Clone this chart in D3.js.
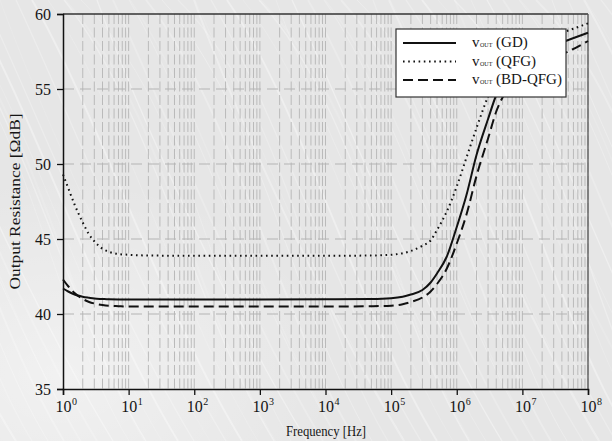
<!DOCTYPE html>
<html>
<head>
<meta charset="utf-8">
<script src="https://cdn.jsdelivr.net/npm/d3@7"></script>
<style>
  html, body { margin: 0; padding: 0; background: #e6e6e6; }
  svg { display: block; }
  text { font-family: "Liberation Serif", "Times New Roman", serif; fill: #151515; }
</style>
</head>
<body>
<svg id="chart" width="612" height="441"></svg>
<script>
// Frequency sweep (Hz) shared by all three output-resistance curves
const freqs = [1, 1.2, 1.5, 2, 2.5, 3, 4, 5, 7, 10, 20, 100, 1e3, 1e4, 5e4,
  1e5, 1.5e5, 2e5, 3e5, 4e5, 5e5, 7e5, 1e6, 1.4e6, 2e6, 3e6, 4e6, 6e6,
  1e7, 2e7, 5e7, 1e8];

// Output resistance [ΩdB] per topology
const gdValues = [41.7, 41.5, 41.3, 41.15, 41.08, 41.03, 41.0, 40.98, 40.97, 40.97,
  40.97, 40.97, 40.97, 40.98, 41.0, 41.05, 41.15, 41.3, 41.6, 42.1, 42.7, 43.8,
  45.8, 47.9, 50.6, 53.0, 54.6, 55.9, 56.8, 57.6, 58.27, 58.75];
const qfgValues = [49.3, 48.4, 47.3, 46.1, 45.3, 44.85, 44.35, 44.15, 44.0, 43.95,
  43.9, 43.88, 43.88, 43.88, 43.9, 43.95, 44.05, 44.2, 44.55, 44.9, 45.6, 46.8,
  48.5, 50.4, 52.4, 54.5, 55.7, 56.9, 57.7, 58.4, 58.9, 59.38];
const bdqfgValues = [42.3, 41.85, 41.4, 41.0, 40.8, 40.7, 40.6, 40.55, 40.52, 40.5,
  40.5, 40.5, 40.5, 40.5, 40.52, 40.55, 40.65, 40.8, 41.1, 41.5, 42.0, 43.0,
  44.7, 46.6, 49.2, 51.7, 53.5, 55.0, 56.0, 56.8, 57.5, 58.2];

const seriesNames = ["GD", "QFG", "BD-QFG"];
const seriesDash = ["none", "1.6,3.6", "10,5"];
const yTicks = [35, 40, 45, 50, 55, 60];
const xDecades = [0, 1, 2, 3, 4, 5, 6, 7, 8];

const svg = d3.select("#chart");
const W = 612, H = 441;
const plotL = 63, plotR = 588, plotT = 14, plotB = 389;

// textured backdrop: light grey with soft white streaks
svg.append("rect").attr("width", W).attr("height", H).attr("fill", "#e6e6e6");
const streaks = svg.append("g").attr("stroke", "#ffffff").attr("fill", "none");
for (let i = -30; i < 60; i++) {
  const x0 = i * 13 + (i % 5) * 3;
  const bend = 40 + (Math.abs(i) % 7) * 12;
  streaks.append("path")
    .attr("d", `M${x0},0 C${x0 + bend},${110} ${x0 + 130},${310} ${x0 + 210},${H}`)
    .attr("stroke-width", 0.8 + (Math.abs(i) % 3) * 0.6)
    .attr("stroke-opacity", 0.15 + (Math.abs(i * 7) % 5) * 0.05);
}
// lighter haze toward the lower left
const haze = svg.append("defs").append("radialGradient").attr("id", "haze")
  .attr("cx", "0.1").attr("cy", "0.85").attr("r", "0.45");
haze.append("stop").attr("offset", "0").attr("stop-color", "#ffffff").attr("stop-opacity", 0.45);
haze.append("stop").attr("offset", "1").attr("stop-color", "#ffffff").attr("stop-opacity", 0);
svg.append("rect").attr("width", W).attr("height", H).attr("fill", "url(#haze)");

const x = d3.scaleLog().domain([1, 1e8]).range([plotL, plotR]);
const y = d3.scaleLinear().domain([35, 60]).range([plotB, plotT]);

// minor + decade vertical grid lines
const gridX = [];
for (let d = 0; d < 8; d++) {
  for (let m = 2; m <= 10; m++) gridX.push(m * Math.pow(10, d));
}
svg.append("g").selectAll("line").data(gridX).join("line")
  .attr("x1", d => x(d)).attr("x2", d => x(d))
  .attr("y1", plotT).attr("y2", plotB)
  .attr("stroke", "#bababa").attr("stroke-width", 1)
  .attr("stroke-dasharray", "10,3.5");

svg.append("g").selectAll("line").data(yTicks.filter(v => v > 35 && v < 60)).join("line")
  .attr("x1", plotL).attr("x2", plotR)
  .attr("y1", d => y(d)).attr("y2", d => y(d))
  .attr("stroke", "#b3b3b3").attr("stroke-width", 1.1)
  .attr("stroke-dasharray", "11,6");

// frame
svg.append("line").attr("x1", plotL).attr("x2", plotR).attr("y1", plotT).attr("y2", plotT)
  .attr("stroke", "#333").attr("stroke-width", 1.3);
svg.append("line").attr("x1", plotR).attr("x2", plotR).attr("y1", plotT).attr("y2", plotB)
  .attr("stroke", "#555").attr("stroke-width", 1.3);

// axes
const yAxis = d3.axisLeft(y).tickValues(yTicks).tickSize(6).tickFormat(d3.format("d"));
const gy = svg.append("g").attr("transform", `translate(${plotL},0)`).call(yAxis);
gy.select(".domain").attr("stroke", "#111").attr("stroke-width", 1.5);
gy.selectAll(".tick line").attr("stroke", "#111").attr("stroke-width", 1.3);
gy.selectAll(".tick text").attr("font-size", 16).attr("x", -12).attr("dy", "0.33em")
  .style("font-family", "'Liberation Serif', serif").attr("fill", "#151515");

const xAxis = d3.axisBottom(x).tickValues(xDecades.map(e => Math.pow(10, e))).tickSize(6).tickFormat("");
const gx = svg.append("g").attr("transform", `translate(0,${plotB})`).call(xAxis);
gx.select(".domain").attr("stroke", "#111").attr("stroke-width", 1.5);
gx.selectAll(".tick line").attr("stroke", "#111").attr("stroke-width", 1.3);
const xt = gx.selectAll(".tick").append("text")
  .attr("x", -8).attr("y", 23).attr("text-anchor", "start").attr("font-size", 16).attr("fill", "#151515")
  .style("font-family", "'Liberation Serif', serif");
xt.append("tspan").text("10");
xt.append("tspan").attr("font-size", 10).attr("dy", -7).attr("dx", 0.5).text((d, i) => xDecades[i]);

// axis titles
svg.append("text").attr("x", 326).attr("y", 436).attr("text-anchor", "middle")
  .attr("font-size", 15.5).attr("textLength", 80).attr("lengthAdjust", "spacingAndGlyphs")
  .text("Frequency [Hz]");
svg.append("text").attr("transform", `translate(19.5,${(plotT + plotB) / 2}) rotate(-90)`)
  .attr("text-anchor", "middle").attr("font-size", 15.5)
  .attr("textLength", 176).attr("lengthAdjust", "spacingAndGlyphs")
  .text("Output Resistance [ΩdB]");

// curves
const allSeries = [gdValues, qfgValues, bdqfgValues];
const line = d3.line()
  .x((d, i) => x(freqs[i]))
  .y(d => y(d))
  .curve(d3.curveMonotoneX);
svg.append("g").selectAll("path").data(allSeries).join("path")
  .attr("d", d => line(d))
  .attr("fill", "none").attr("stroke", "#111").attr("stroke-width", 2)
  .attr("stroke-dasharray", (d, i) => seriesDash[i]);

// legend
const lg = svg.append("g").attr("transform", "translate(396,29)");
lg.append("rect").attr("width", 170).attr("height", 68)
  .attr("fill", "#ffffff").attr("stroke", "#333").attr("stroke-width", 1.2);
seriesNames.forEach((name, i) => {
  const ly = 14 + i * 18.5;
  lg.append("line").attr("x1", 7).attr("x2", 60).attr("y1", ly).attr("y2", ly)
    .attr("stroke", "#111").attr("stroke-width", 2)
    .attr("stroke-dasharray", seriesDash[i]);
  const t = lg.append("text").attr("x", 76).attr("y", ly + 4).attr("font-size", 15);
  t.append("tspan").text("v");
  t.append("tspan").attr("font-size", 6).attr("dx", 0.5).text("OUT");
  t.append("tspan").text(" (" + name + ")");
});
</script>
</body>
</html>
